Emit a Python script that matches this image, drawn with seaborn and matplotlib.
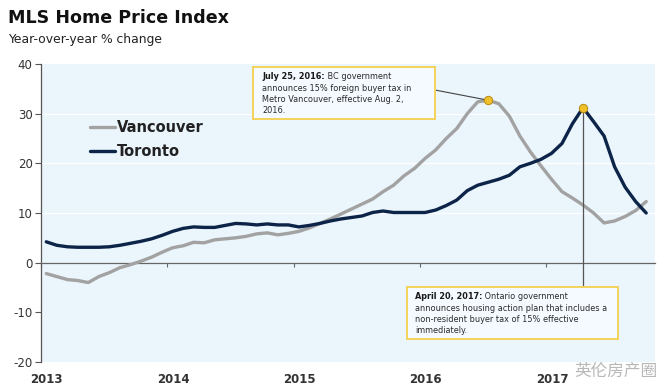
import numpy as np
import pandas as pd
import matplotlib
matplotlib.use("Agg")
import matplotlib.pyplot as plt
from matplotlib.lines import Line2D
from matplotlib.patches import Rectangle
from matplotlib.transforms import Bbox
import seaborn as sns

# ---- data (monthly, Jan 2013 .. Oct 2017) ----
vancouver = [-2.2, -2.8, -3.4, -3.6, -4.0, -2.8, -2.0, -1.0, -0.4, 0.3, 1.1, 2.1,
             3.0, 3.4, 4.1, 4.0, 4.6, 4.8, 5.0, 5.3, 5.8, 6.0, 5.6, 5.9,
             6.3, 7.0, 7.9, 8.8, 9.8, 10.8, 11.8, 12.8, 14.3, 15.6, 17.5, 19.0,
             21.0, 22.7, 25.0, 27.0, 30.0, 32.4, 32.7, 32.0, 29.5, 25.5, 22.3, 19.5,
             16.8, 14.3, 13.0, 11.6, 10.0, 8.0, 8.4, 9.3, 10.5, 12.3]
toronto = [4.2, 3.5, 3.2, 3.1, 3.1, 3.1, 3.2, 3.5, 3.9, 4.3, 4.8, 5.5,
           6.3, 6.9, 7.2, 7.1, 7.1, 7.5, 7.9, 7.8, 7.6, 7.8, 7.6, 7.6,
           7.2, 7.5, 7.9, 8.4, 8.8, 9.1, 9.4, 10.1, 10.4, 10.1, 10.1, 10.1,
           10.1, 10.6, 11.5, 12.6, 14.5, 15.6, 16.2, 16.8, 17.6, 19.3, 20.0, 20.8,
           22.0, 24.0, 28.0, 31.2, 28.4, 25.5, 19.3, 15.2, 12.3, 10.0]
series_names = ["Vancouver", "Toronto"]
year_labels = [2013, 2014, 2015, 2016, 2017]
y_ticks = [-20, -10, 0, 10, 20, 30, 40]
note_bc = ("July 25, 2016:", ["BC government",
                              "announces 15% foreign buyer tax in",
                              "Metro Vancouver, effective Aug. 2,",
                              "2016."])
note_on = ("April 20, 2017:", ["Ontario government",
                               "announces housing action plan that includes a",
                               "non-resident buyer tax of 15% effective",
                               "immediately."])

n = len(vancouver)
t = 2013 + (np.arange(n) + 0.5) / 12.0
df = pd.DataFrame({"t": np.concatenate([t, t]),
                   "value": vancouver + toronto,
                   "city": [series_names[0]] * n + [series_names[1]] * n})

GRAY = "#a2a2a2"
NAVY = "#0c2448"
BG = "#eaf5fc"
GOLD = "#f0c02a"

sns.set_style("white")
plt.rcParams["font.family"] = ["DejaVu Sans", "Noto Sans CJK SC"]

fig = plt.figure(figsize=(6.65, 3.91), dpi=100)
ax = fig.add_axes([41 / 665, 1 - 362 / 391, 614 / 665, 298 / 391])
ax.set_facecolor(BG)

for y in [10, 20, 30]:
    ax.axhline(y, color="white", lw=0.9, zorder=0)

sns.lineplot(data=df, x="t", y="value", hue="city", palette=[GRAY, NAVY],
             linewidth=2.4, ax=ax, legend=False, zorder=3)

# peaks
iv = int(np.argmax(vancouver))
it = int(np.argmax(toronto))
peaks = pd.DataFrame({"t": [t[iv], t[it]], "value": [vancouver[iv], toronto[it]]})
sns.scatterplot(data=peaks, x="t", y="value", s=36, color=GOLD, edgecolor="#b88a10",
                linewidth=0.7, ax=ax, zorder=6)

ax.set_xlim(2013, 2013 + 614 / 126.3)
ax.set_ylim(-20, 40)
ax.set_yticks(y_ticks)
ax.set_yticklabels([str(v) for v in y_ticks], fontsize=8.5, color="#333333")
ax.tick_params(axis="y", direction="out", length=4, width=0.8, color="#555555", left=True, pad=2)

for s in ["top", "right"]:
    ax.spines[s].set_visible(False)
ax.spines["left"].set_color("#555555")
ax.spines["left"].set_linewidth(0.9)
ax.spines["bottom"].set_position(("data", 0))
ax.spines["bottom"].set_color("#666666")
ax.spines["bottom"].set_linewidth(0.9)
ax.set_xticks(year_labels)
ax.tick_params(axis="x", direction="out", length=3, width=0.8, color="#666666",
               bottom=True, labelbottom=False)
ax.set_xlabel("")
ax.set_ylabel("")
for yr in year_labels:
    ax.text(yr + 0.045, -0.06, str(yr), transform=ax.get_xaxis_transform(),
            ha="center", va="center", fontsize=8.5, fontweight="bold", color="#333333")

# annotation boxes
FS = 5.9
def note(x, y, parts):
    bold, rest = parts
    b = ax.text(x, y, bold, fontsize=FS, color="#1a1a1a", ha="left", va="top",
                fontweight="bold", zorder=8)
    r1 = ax.annotate(" " + rest[0], xy=(1, 1), xycoords=b, ha="left", va="top",
                     fontsize=FS, color="#2a2a2a", zorder=8)
    r2 = ax.annotate("\n".join(rest[1:]), xy=(0, 0), xycoords=b, xytext=(0, -2.2),
                     textcoords="offset points", ha="left", va="top",
                     fontsize=FS, color="#2a2a2a", linespacing=1.3, zorder=8)
    return [b, r1, r2]

texts_bc = note(2014.75, 38.4, note_bc)
texts_on = note(2015.96, -5.9, note_on)

fig.canvas.draw()
renderer = fig.canvas.get_renderer()
inv = ax.transAxes.inverted()
rects = []
for group, (pl, pr, pt, pb) in [(texts_bc, (9, 24, 5, 4)), (texts_on, (8, 11, 5, 4))]:
    bb = Bbox.union([tx.get_window_extent(renderer) for tx in group])
    x0, y0 = inv.transform((bb.x0 - pl, bb.y0 - pb))
    x1, y1 = inv.transform((bb.x1 + pr, bb.y1 + pt))
    ax.add_patch(Rectangle((x0, y0), x1 - x0, y1 - y0, transform=ax.transAxes,
                           fc="#f4faff", ec="#f2d35a", lw=1.4, zorder=7))
    rects.append((x0, y0, x1, y1))

# connectors: from right edge of BC box to Vancouver peak; vertical from Toronto peak to Ontario box
axes_to_data = ax.transAxes + ax.transData.inverted()
cx, cy = axes_to_data.transform((rects[0][2], (rects[0][1] + rects[0][3]) / 2 + 0.01))
ax.plot([cx, t[iv]], [cy, vancouver[iv]], color="#444444", lw=0.8, zorder=5)
_, top2 = axes_to_data.transform((rects[1][0], rects[1][3]))
ax.plot([t[it], t[it]], [toronto[it], top2], color="#555555", lw=0.9, zorder=5)

# legend
handles = [Line2D([], [], color=GRAY, lw=2.4), Line2D([], [], color=NAVY, lw=2.4)]
leg = ax.legend(handles, series_names, loc="upper left", bbox_to_anchor=(0.08, 0.812),
                frameon=False, borderpad=0, borderaxespad=0, handlelength=1.7,
                handletextpad=0.15, labelspacing=0.6, prop={"size": 10.5, "weight": "bold"})
for txt in leg.get_texts():
    txt.set_color("#222222")

# titles
fig.text(8 / 665, 1 - 18 / 391, "MLS Home Price Index", fontsize=12.6, fontweight="bold",
         ha="left", va="center", color="#111111")
fig.text(8 / 665, 1 - 40 / 391, "Year-over-year % change", fontsize=8.9,
         ha="left", va="center", color="#222222")

# watermark
fig.text(574 / 665, 1 - 371 / 391, "英伦房产圈", fontsize=12, color="#b8b8b8",
         ha="left", va="center", family=["Noto Sans CJK SC", "DejaVu Sans"])

fig.savefig("out.png", dpi=100, facecolor="white")
